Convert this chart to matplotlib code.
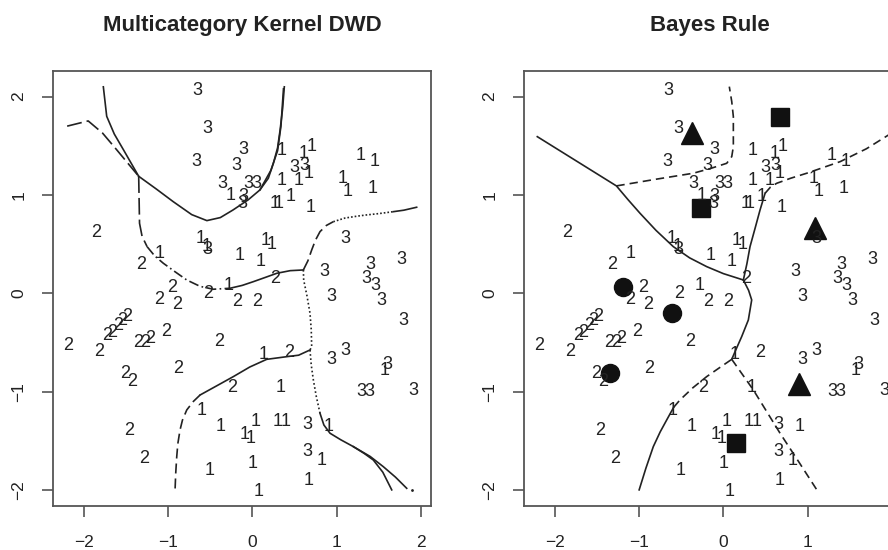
import matplotlib.pyplot as plt
import numpy as np

plt.rcParams['font.family'] = ['Liberation Sans', 'DejaVu Sans']

# observations, by class (same points in both panels)
x1 = [0.35, 0.61, 0.70, 0.35, 0.555, 0.665, 1.29, 1.457, 1.07, 1.13, 1.425, 0.27, 0.31,
      0.456, 0.697, -0.253, -0.61, -0.54, 0.16, 0.23, -0.146, 0.10, -1.096, -0.285, 0.139,
      1.576, 0.341, -0.601, -0.372, 0.04, -0.095, -0.015, 0.301, 0.397, 0.911, 0.824,
      -0.511, 0.0, 0.665, 0.08]
y1 = [1.475, 1.44, 1.51, 1.17, 1.17, 1.237, 1.424, 1.356, 1.186, 1.051, 1.085, 0.932, 0.932,
      1.0, 0.888, 1.017, 0.576, 0.50, 0.56, 0.515, 0.407, 0.34, 0.423, 0.102, -0.604,
      -0.763, -0.943, -1.17, -1.33, -1.282, -1.418, -1.452, -1.282, -1.282, -1.33, -1.679,
      -1.78, -1.713, -1.882, -1.994]

x2 = [-1.86, -1.326, -0.95, -0.523, -1.112, -0.898, -0.178, 0.059, 0.27, -2.193, -1.817,
      -1.72, -1.67, -1.60, -1.55, -1.49, -1.354, -1.27, -1.21, -1.03, -0.392, 0.432,
      -0.879, -1.512, -1.432, -0.245, -1.464, -1.286]
y2 = [0.637, 0.312, 0.084, 0.016, -0.041, -0.095, -0.068, -0.061, 0.17, -0.516, -0.57,
      -0.41, -0.375, -0.31, -0.26, -0.22, -0.48, -0.485, -0.44, -0.37, -0.475, -0.584,
      -0.746, -0.797, -0.875, -0.943, -1.373, -1.662]

x3 = [-0.65, -0.53, -0.66, -0.11, -0.19, -0.36, -0.05, 0.05, -0.11, -0.12, 0.50, 0.62,
      -0.53, 1.10, 1.77, 1.40, 1.35, 1.46, 1.53, 0.85, 0.94, 1.79, 0.935, 1.10, 1.60,
      1.30, 1.39, 1.91, 0.653, 0.653]
y3 = [2.085, 1.695, 1.356, 1.485, 1.322, 1.14, 1.14, 1.14, 1.0, 0.93, 1.30, 1.32,
      0.47, 0.576, 0.366, 0.31, 0.17, 0.10, -0.05, 0.237, -0.017, -0.254, -0.651, -0.56,
      -0.70, -0.984, -0.984, -0.966, -1.316, -1.587]

# class means (Bayes panel)
mean1_x = [0.674, -0.265, 0.151]
mean1_y = [1.79, 0.871, -1.526]
mean2_x = [-1.189, -0.606, -1.347]
mean2_y = [0.061, -0.197, -0.808]
mean3_x = [-0.376, 1.09, 0.904]
mean3_y = [1.63, 0.66, -0.92]

# kernel DWD boundaries: (x, y, linestyle)
dwd_curves = [
    ([-2.2, -1.95, -1.78, -1.61, -1.35], [1.70, 1.753, 1.63, 1.458, 1.19], (0, (9, 3))),
    ([-1.77, -1.75, -1.73, -1.64, -1.53, -1.35], [2.10, 1.95, 1.80, 1.62, 1.458, 1.19], '-'),
    ([-1.35, -1.14, -0.94, -0.72, -0.54, -0.38, -0.23, -0.05, 0.09, 0.19, 0.25, 0.30, 0.33, 0.36, 0.38],
     [1.19, 1.06, 0.932, 0.80, 0.739, 0.77, 0.847, 0.95, 1.051, 1.17, 1.322, 1.48, 1.661, 1.88, 2.10], '-'),
    ([0.09, 0.22, 0.30, 0.34, 0.37], [1.051, 1.25, 1.45, 1.70, 2.08], '-'),
    ([-1.35, -1.345, -1.34, -1.31, -1.25], [1.19, 0.95, 0.712, 0.58, 0.474], (0, (10, 3))),
    ([-1.25, -1.16, -1.057, -0.92, -0.779, -0.62, -0.463, -0.265],
     [0.474, 0.38, 0.305, 0.22, 0.135, 0.07, 0.041, 0.051], (0, (6, 2, 1, 2))),
    ([-0.265, -0.12, 0.012, 0.15, 0.29, 0.45, 0.606], [0.051, 0.08, 0.118, 0.16, 0.203, 0.23, 0.237], '-'),
    ([0.606, 0.66, 0.705, 0.75, 0.804, 0.88, 0.962], [0.237, 0.33, 0.44, 0.54, 0.627, 0.69, 0.728], (0, (7, 3))),
    ([0.962, 1.1, 1.25, 1.359, 1.5, 1.675], [0.728, 0.765, 0.785, 0.797, 0.81, 0.83], (0, (1, 1.2))),
    ([1.675, 1.8, 1.952], [0.83, 0.845, 0.875], '-'),
    ([0.606, 0.61, 0.65, 0.685, 0.70, 0.705, 0.685], [0.237, 0.135, -0.03, -0.203, -0.37, -0.543, -0.577],
     (0, (1, 1.5))),
    ([0.685, 0.55, 0.409, 0.171, -0.03, -0.226, -0.42, -0.621], [-0.577, -0.63, -0.645, -0.672, -0.75, -0.848, -0.94, -1.035], '-'),
    ([-0.621, -0.70, -0.779, -0.83, -0.859, -0.885, -0.898, -0.91, -0.918],
     [-1.035, -1.10, -1.187, -1.29, -1.391, -1.53, -1.662, -1.83, -2.0], (0, (6, 3))),
    ([0.685, 0.70, 0.725, 0.76, 0.804], [-0.577, -0.73, -0.882, -1.05, -1.221], (0, (1, 1.5))),
    ([0.804, 0.85, 0.923, 1.05, 1.2, 1.33, 1.437, 1.55, 1.656], [-1.221, -1.34, -1.424, -1.49, -1.56, -1.63, -1.696, -1.82, -2.0], '-'),
    ([1.2, 1.4, 1.556, 1.70, 1.834], [-1.56, -1.66, -1.764, -1.87, -1.984], '-'),
]

# Bayes rule boundaries
bayes_curves = [
    ([-2.21, -1.27, -1.13, -0.99, -0.80, -0.594, -0.40, -0.198, 0.0, 0.238],
     [1.593, 1.092, 0.95, 0.814, 0.64, 0.474, 0.36, 0.271, 0.20, 0.135], '-'),
    ([0.238, 0.28, 0.317, 0.38, 0.436, 0.496], [0.135, 0.30, 0.474, 0.67, 0.847, 1.017], '-'),
    ([0.238, 0.30, 0.337, 0.297, 0.218, 0.139, 0.10], [0.135, 0.03, -0.068, -0.272, -0.441, -0.594, -0.672], '-'),
    ([-1.0, -0.92, -0.832, -0.75, -0.673, -0.59], [-2.0, -1.78, -1.56, -1.41, -1.289, -1.16], '-'),
    ([-0.59, -0.515, -0.36, -0.198, -0.05, 0.10], [-1.16, -1.085, -0.96, -0.848, -0.76, -0.672], (0, (5, 3))),
    ([0.10, 0.357, 0.674, 0.90, 1.111], [-0.672, -0.984, -1.424, -1.72, -2.0], (0, (5, 3))),
    ([-1.27, -0.80, -0.357, -0.15, 0.04, 0.10, 0.119, 0.119, 0.10, 0.071],
     [1.092, 1.16, 1.221, 1.27, 1.322, 1.39, 1.492, 1.797, 1.95, 2.102], (0, (5, 3))),
    ([0.496, 0.56, 0.635, 0.80, 0.991, 1.388, 1.70, 1.962, 2.12],
     [1.017, 1.08, 1.119, 1.17, 1.221, 1.339, 1.47, 1.61, 1.70], (0, (5, 3))),
]

ink = '#222222'
frame = '#555555'

fig = plt.figure(figsize=(8.88, 5.5), dpi=100)
ax_l = fig.add_axes([53 / 888, 44 / 550, 377.7 / 888, 435.3 / 550])
ax_r = fig.add_axes([524 / 888, 44 / 550, 377.7 / 888, 435.3 / 550])


def draw_points(ax):
    for xs, ys, lab in [(x1, y1, '1'), (x2, y2, '2'), (x3, y3, '3')]:
        for x, y in zip(xs, ys):
            ax.text(x, y, lab, ha='center', va='center_baseline', fontsize=13, color=ink)


def style(ax):
    ax.set_xlim(-2.368, 2.119)
    ax.set_ylim(-2.164, 2.264)
    ax.set_xticks([-2, -1, 0, 1, 2])
    ax.set_yticks([-2, -1, 0, 1, 2])
    ax.tick_params(direction='out', length=8, width=1.2, color=frame, labelsize=12.5,
                   labelcolor=ink, pad=11)
    ax.tick_params(axis='x', pad=13)
    for lab in ax.get_yticklabels():
        lab.set_rotation(90)
        lab.set_va('center')
    for sp in ax.spines.values():
        sp.set_color(frame)
        sp.set_linewidth(1.3)


for xs, ys, ls in dwd_curves:
    ax_l.plot(xs, ys, color=ink, lw=1.2, linestyle=ls)
ax_l.plot([1.9], [-2.0], marker='.', ms=2, color=ink)
draw_points(ax_l)
style(ax_l)

for xs, ys, ls in bayes_curves:
    ax_r.plot(xs, ys, color=ink, lw=1.2, linestyle=ls)
draw_points(ax_r)
ax_r.plot(mean1_x, mean1_y, 's', ms=13, color='#111111', ls='none')
ax_r.plot(mean2_x, mean2_y, 'o', ms=13, color='#111111', ls='none')
ax_r.plot(mean3_x, mean3_y, '^', ms=16, color='#111111', ls='none')
style(ax_r)

fig.text(241.9 / 888, 1 - 31 / 550, 'Multicategory Kernel DWD', ha='center', va='baseline',
         fontsize=16, fontweight='bold', color=ink)
fig.text(710 / 888, 1 - 31 / 550, 'Bayes Rule', ha='center', va='baseline',
         fontsize=16, fontweight='bold', color=ink)

fig.savefig('out.png', dpi=100)
